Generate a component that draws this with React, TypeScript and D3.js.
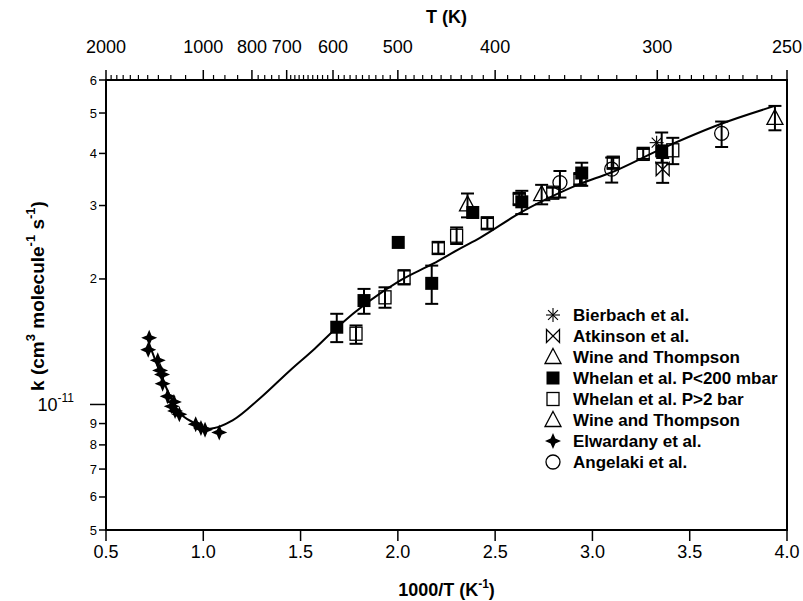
import React from 'react';
import * as d3 from 'd3';

// ---------------- data (k in units of 1e-11 cm3 molecule-1 s-1) ----------------
const bottomTicks = [0.5, 1.0, 1.5, 2.0, 2.5, 3.0, 3.5, 4.0];
const leftTicks = [0.5, 0.6, 0.7, 0.8, 0.9, 1, 2, 3, 4, 5, 6];
const leftTickLabels = ['5', '6', '7', '8', '9', '10', '2', '3', '4', '5', '6'];
const topMajorT = [2000, 1000, 800, 700, 600, 500, 400, 300, 250];

const curveX = [0.721, 0.7775, 0.8546, 0.957, 1.0345, 1.1527, 1.2915, 1.4457, 1.574, 1.687, 2.011, 2.181, 2.319, 2.422, 2.628, 2.833, 2.936, 3.09, 3.363, 3.656, 3.938];
const curveK = [1.401, 1.194, 0.99, 0.901, 0.875, 0.917, 1.035, 1.207, 1.363, 1.53, 1.982, 2.176, 2.365, 2.51, 2.88, 3.22, 3.38, 3.59, 4.12, 4.7, 5.2];

const elwardanyX = [0.722, 0.717, 0.766, 0.778, 0.788, 0.791, 0.817, 0.849, 0.838, 0.855, 0.877, 0.961, 0.988, 1.009, 1.082];
const elwardanyK = [1.445, 1.353, 1.276, 1.207, 1.18, 1.122, 1.046, 1.014, 0.99, 0.965, 0.947, 0.897, 0.878, 0.87, 0.857];

const whelanLowX = [1.686, 1.826, 2.002, 2.174, 2.385, 2.637, 2.945, 3.356];
const whelanLowK = [1.532, 1.775, 2.447, 1.952, 2.887, 3.062, 3.59, 4.056];
const whelanLowLo = [1.411, 1.65, NaN, 1.743, NaN, 2.861, 3.345, 3.8];
const whelanLowHi = [1.65, 1.893, NaN, 2.153, NaN, 3.254, 3.8, 4.49];

const whelanHighX = [1.785, 1.934, 2.032, 2.208, 2.302, 2.46, 2.624, 2.796, 2.936, 3.107, 3.261, 3.413];
const whelanHighK = [1.478, 1.807, 2.018, 2.373, 2.539, 2.72, 3.11, 3.22, 3.47, 3.8, 3.99, 4.07];
const whelanHighLo = [1.398, 1.706, 1.94, 2.3, 2.426, 2.64, 3.02, 3.13, 3.37, 3.69, 3.88, 3.77];
const whelanHighHi = [1.547, 1.91, 2.1, 2.447, 2.658, 2.8, 3.2, 3.31, 3.57, 3.91, 4.1, 4.36];

const angelakiX = [2.833, 3.099, 3.664];
const angelakiK = [3.405, 3.667, 4.47];
const angelakiLo = [3.135, 3.405, 4.145];
const angelakiHi = [3.63, 3.91, 4.77];

const wineAX = [2.358, 2.739];
const wineAK = [3.02, 3.195];
const wineALo = [2.81, 3.02];
const wineAHi = [3.206, 3.363];

const wineBX = [3.938];
const wineBK = [4.865];
const wineBLo = [4.545];
const wineBHi = [5.2];

const bierbachX = [3.33];
const bierbachK = [4.245];

const atkinsonX = [3.361];
const atkinsonK = [3.667];
const atkinsonLo = [3.4];
const atkinsonHi = [3.9];

const legendLabels = [
  'Bierbach et al.',
  'Atkinson et al.',
  'Wine and Thompson',
  'Whelan et al. P<200 mbar',
  'Whelan et al. P>2 bar',
  'Wine and Thompson',
  'Elwardany et al.',
  'Angelaki et al.',
];
const legendTypes = ['asterisk', 'bowtie', 'triangle', 'filledSquare', 'openSquare', 'triangle', 'star4', 'circle'];

// ---------------- layout ----------------
const W = 803, H = 601;
const L = 106, R = 787, T = 80, B = 530;
const FONT = '"Liberation Sans", Arial, Helvetica, sans-serif';

const x = d3.scaleLinear().domain([0.5, 4.0]).range([L, R]);
const y = d3.scaleLog().domain([0.5, 6]).range([B, T]);

// top axis minor tick temperatures
const topMinorT: number[] = [
  ...d3.range(1900, 1000, -100),
  ...d3.range(950, 800, -50),
  ...d3.range(780, 700, -20),
  ...d3.range(690, 600, -10),
  ...d3.range(590, 500, -10),
  ...d3.range(490, 400, -10),
  ...d3.range(390, 300, -10),
  ...d3.range(295, 250, -5),
];

function Marker({ type, cx, cy }: { type: string; cx: number; cy: number }) {
  const sw = 1.3;
  switch (type) {
    case 'asterisk': {
      const r = 7;
      return (
        <g stroke="#000" strokeWidth={1.1}>
          {[0, 45, 90, 135].map((a) => {
            const rad = (a * Math.PI) / 180;
            return (
              <line key={a} x1={cx - r * Math.cos(rad)} y1={cy - r * Math.sin(rad)} x2={cx + r * Math.cos(rad)} y2={cy + r * Math.sin(rad)} />
            );
          })}
        </g>
      );
    }
    case 'bowtie':
      return (
        <path d={`M${cx - 6.5},${cy - 6.5}L${cx + 6.5},${cy + 6.5}L${cx + 6.5},${cy - 6.5}L${cx - 6.5},${cy + 6.5}Z`} fill="none" stroke="#000" strokeWidth={sw} />
      );
    case 'triangle':
      return <path d={`M${cx},${cy - 8.5}L${cx + 8},${cy + 6.5}L${cx - 8},${cy + 6.5}Z`} fill="none" stroke="#000" strokeWidth={sw} />;
    case 'filledSquare':
      return <rect x={cx - 6.5} y={cy - 6.5} width={13} height={13} fill="#000" />;
    case 'openSquare':
      return <rect x={cx - 6} y={cy - 6.5} width={12} height={13} fill="none" stroke="#000" strokeWidth={sw} />;
    case 'star4':
      return (
        <path
          d={`M${cx},${cy - 8}L${cx + 2.4},${cy - 2.4}L${cx + 8},${cy}L${cx + 2.4},${cy + 2.4}L${cx},${cy + 8}L${cx - 2.4},${cy + 2.4}L${cx - 8},${cy}L${cx - 2.4},${cy - 2.4}Z`}
          fill="#000"
        />
      );
    case 'circle':
      return <circle cx={cx} cy={cy} r={7} fill="none" stroke="#000" strokeWidth={sw} />;
    default:
      return null;
  }
}

function ErrBar({ xv, lo, hi }: { xv: number; lo: number; hi: number }) {
  if (!isFinite(lo) || !isFinite(hi)) return null;
  const px = x(xv);
  const y1 = y(hi), y2 = y(lo);
  const c = 6.5;
  return (
    <g stroke="#000" strokeWidth={2}>
      <line x1={px} x2={px} y1={y1} y2={y2} />
      <line x1={px - c} x2={px + c} y1={y1} y2={y1} />
      <line x1={px - c} x2={px + c} y1={y2} y2={y2} />
    </g>
  );
}

function Series({ xs, ks, lo, hi, type }: { xs: number[]; ks: number[]; lo?: number[]; hi?: number[]; type: string }) {
  return (
    <g>
      {lo && hi && xs.map((xv, i) => <ErrBar key={'e' + i} xv={xv} lo={lo[i]} hi={hi[i]} />)}
      {xs.map((xv, i) => (
        <Marker key={'m' + i} type={type} cx={x(xv)} cy={y(ks[i])} />
      ))}
    </g>
  );
}

export default function App() {
  const line = d3
    .line<number>()
    .x((_, i) => x(curveX[i]))
    .y((d) => y(d))
    .curve(d3.curveMonotoneX);
  const curvePath = line(curveK) || '';

  const legendRowY = [315, 336, 357, 378, 399, 420, 441, 462];

  return (
    <svg width={W} height={H} viewBox={`0 0 ${W} ${H}`} style={{ position: 'absolute', left: 0, top: 0, background: '#fff' }} fontFamily={FONT}>
      <rect x={0} y={0} width={W} height={H} fill="#fff" />

      {/* curve */}
      <path d={curvePath} fill="none" stroke="#000" strokeWidth={2} />

      {/* data */}
      <Series xs={elwardanyX} ks={elwardanyK} type="star4" />
      <Series xs={whelanHighX} ks={whelanHighK} lo={whelanHighLo} hi={whelanHighHi} type="openSquare" />
      <Series xs={whelanLowX} ks={whelanLowK} lo={whelanLowLo} hi={whelanLowHi} type="filledSquare" />
      <Series xs={angelakiX} ks={angelakiK} lo={angelakiLo} hi={angelakiHi} type="circle" />
      <Series xs={wineAX} ks={wineAK} lo={wineALo} hi={wineAHi} type="triangle" />
      <Series xs={wineBX} ks={wineBK} lo={wineBLo} hi={wineBHi} type="triangle" />
      <Series xs={atkinsonX} ks={atkinsonK} lo={atkinsonLo} hi={atkinsonHi} type="bowtie" />
      <Series xs={bierbachX} ks={bierbachK} type="asterisk" />

      {/* frame */}
      <rect x={L} y={T} width={R - L} height={B - T} fill="none" stroke="#000" strokeWidth={2} />

      {/* bottom axis */}
      {bottomTicks.map((t) => (
        <g key={'b' + t}>
          <line x1={x(t)} x2={x(t)} y1={B} y2={B + 11} stroke="#000" strokeWidth={1.5} />
          <text x={x(t)} y={558} textAnchor="middle" fontSize={18}>
            {t.toFixed(1)}
          </text>
        </g>
      ))}
      <text x={(L + R) / 2} y={596} textAnchor="middle" fontSize={18} fontWeight="bold">
        1000/T (K<tspan dy={-8} fontSize={12}>-1</tspan>
        <tspan dy={8}>)</tspan>
      </text>

      {/* left axis */}
      {leftTicks.map((t, i) => {
        const isMajor = t === 1;
        const py = y(t);
        return (
          <g key={'l' + i}>
            <line x1={isMajor ? L - 16 : L - 7} x2={L} y1={py} y2={py} stroke="#000" strokeWidth={1.5} />
            {isMajor ? (
              <text x={L - 32} y={py + 7} textAnchor="end" fontSize={18}>
                {leftTickLabels[i]}
                <tspan dy={-9} fontSize={12}>-11</tspan>
              </text>
            ) : (
              <text x={L - 9} y={py + 4.5} textAnchor="end" fontSize={13}>
                {leftTickLabels[i]}
              </text>
            )}
          </g>
        );
      })}
      <text transform={`translate(44,${296}) rotate(-90)`} textAnchor="middle" fontSize={19} fontWeight="bold">
        k (cm<tspan dy={-9} fontSize={13}>3</tspan>
        <tspan dy={9}> molecule</tspan>
        <tspan dy={-9} fontSize={13}>-1</tspan>
        <tspan dy={9}> s</tspan>
        <tspan dy={-9} fontSize={13}>-1</tspan>
        <tspan dy={9}>)</tspan>
      </text>

      {/* top axis */}
      {topMinorT.map((tv) => (
        <line key={'tm' + tv} x1={x(1000 / tv)} x2={x(1000 / tv)} y1={T} y2={T - 5} stroke="#000" strokeWidth={1.2} />
      ))}
      {topMajorT.map((tv) => (
        <g key={'tM' + tv}>
          <line x1={x(1000 / tv)} x2={x(1000 / tv)} y1={T} y2={T - 10} stroke="#000" strokeWidth={1.5} />
          <text x={x(1000 / tv)} y={53} textAnchor="middle" fontSize={18}>
            {tv}
          </text>
        </g>
      ))}
      <text x={(L + R) / 2} y={23} textAnchor="middle" fontSize={18} fontWeight="bold">
        T (K)
      </text>

      {/* legend */}
      {legendLabels.map((lab, i) => (
        <g key={'lg' + i}>
          <Marker type={legendTypes[i]} cx={553} cy={legendRowY[i]} />
          <text x={573} y={legendRowY[i] + 6} fontSize={17} fontWeight="bold">
            {lab}
          </text>
        </g>
      ))}
    </svg>
  );
}
